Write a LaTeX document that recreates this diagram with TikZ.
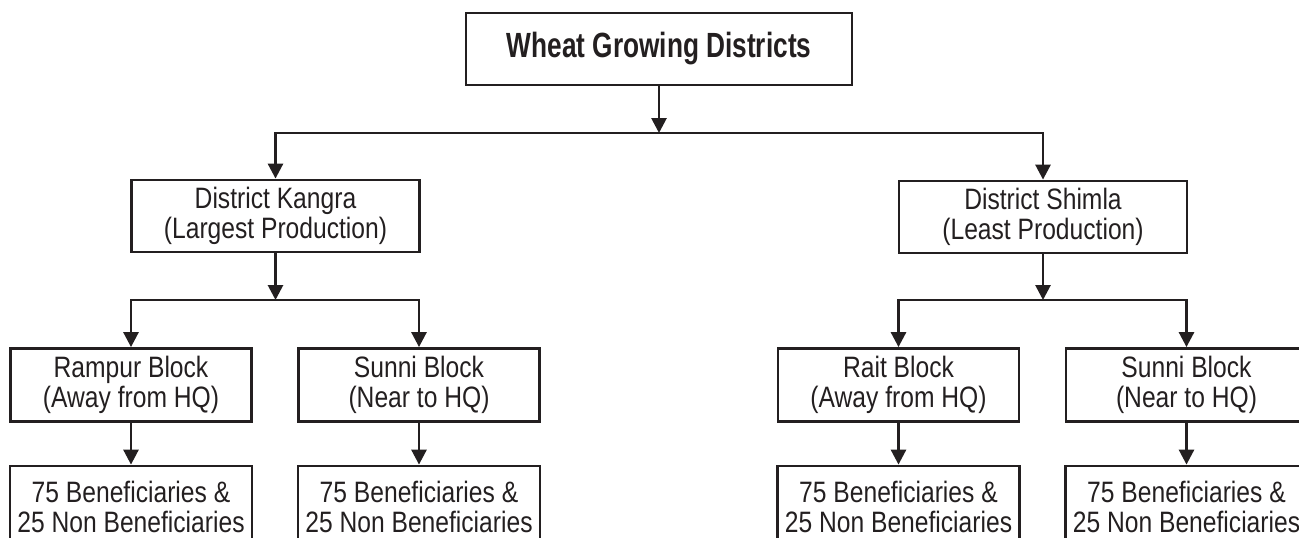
\documentclass[tikz,border=0pt]{standalone}
\usepackage{fontspec}
\setmainfont[FakeStretch=0.835]{Liberation Sans}
\newfontfamily\headfont[FakeStretch=0.75]{Liberation Sans}
\usepackage{tikz}
\usetikzlibrary{arrows.meta}
\definecolor{ink}{HTML}{231F20}

\begin{document}
\begin{tikzpicture}[x=1pt, y=-1pt, line width=2.8pt, draw=ink, text=ink,
    box/.style={draw, rectangle, align=center, inner sep=0pt, font=\fontsize{29.5}{30}\selectfont},
    head/.style={box, minimum width=386pt, minimum height=72pt, font=\headfont\bfseries\fontsize{35}{36}\selectfont},
    district/.style={box, minimum width=288pt, minimum height=72pt},
    block/.style={box, minimum width=241pt, minimum height=73pt},
    sample/.style={box, minimum width=242pt, minimum height=82pt},
    ->/.style={-{Triangle[width=15pt, length=15pt]}}]
    \useasboundingbox (0, 0) rectangle (1299, 538);
    \clip (0, 0) rectangle (1299, 538);

    \node [head] (top) at (659, 49) {Wheat Growing Districts};
    \node [district] (kangra) at (275.5, 216) {District Kangra\\(Largest Production)};
    \node [district] (shimla) at (1043, 217) {District Shimla\\(Least Production)};

    \node [block] (rampur) at (131, 385) {Rampur Block\\(Away from HQ)};
    \node [block] (sunni1) at (419, 385) {Sunni Block\\(Near to HQ)};
    \node [block] (rait) at (898.5, 385) {Rait Block\\(Away from HQ)};
    \node [block] (sunni2) at (1186.5, 385) {Sunni Block\\(Near to HQ)};

    \node [sample] (s1) at (131, 507) {75 Beneficiaries \&\\25 Non Beneficiaries};
    \node [sample] (s2) at (419, 507) {75 Beneficiaries \&\\25 Non Beneficiaries};
    \node [sample] (s3) at (898.5, 507) {75 Beneficiaries \&\\25 Non Beneficiaries};
    \node [sample] (s4) at (1186.5, 507) {75 Beneficiaries \&\\25 Non Beneficiaries};

    \coordinate (j0) at (659, 133);
    \coordinate (j1) at (275.5, 300);
    \coordinate (j2) at (1043, 300);

    \draw [->] (top) to (j0);
    \draw [->] (j0) -| (kangra);
    \draw [->] (j0) -| (shimla);

    \draw [->] (kangra) to (j1);
    \draw [->] (j1) -| (rampur);
    \draw [->] (j1) -| (sunni1);
    \draw [->] (shimla) to (j2);
    \draw [->] (j2) -| (rait);
    \draw [->] (j2) -| (sunni2);

    \draw [->] (rampur) to (s1);
    \draw [->] (sunni1) to (s2);
    \draw [->] (rait) to (s3);
    \draw [->] (sunni2) to (s4);
  \end{tikzpicture}
\end{document}
